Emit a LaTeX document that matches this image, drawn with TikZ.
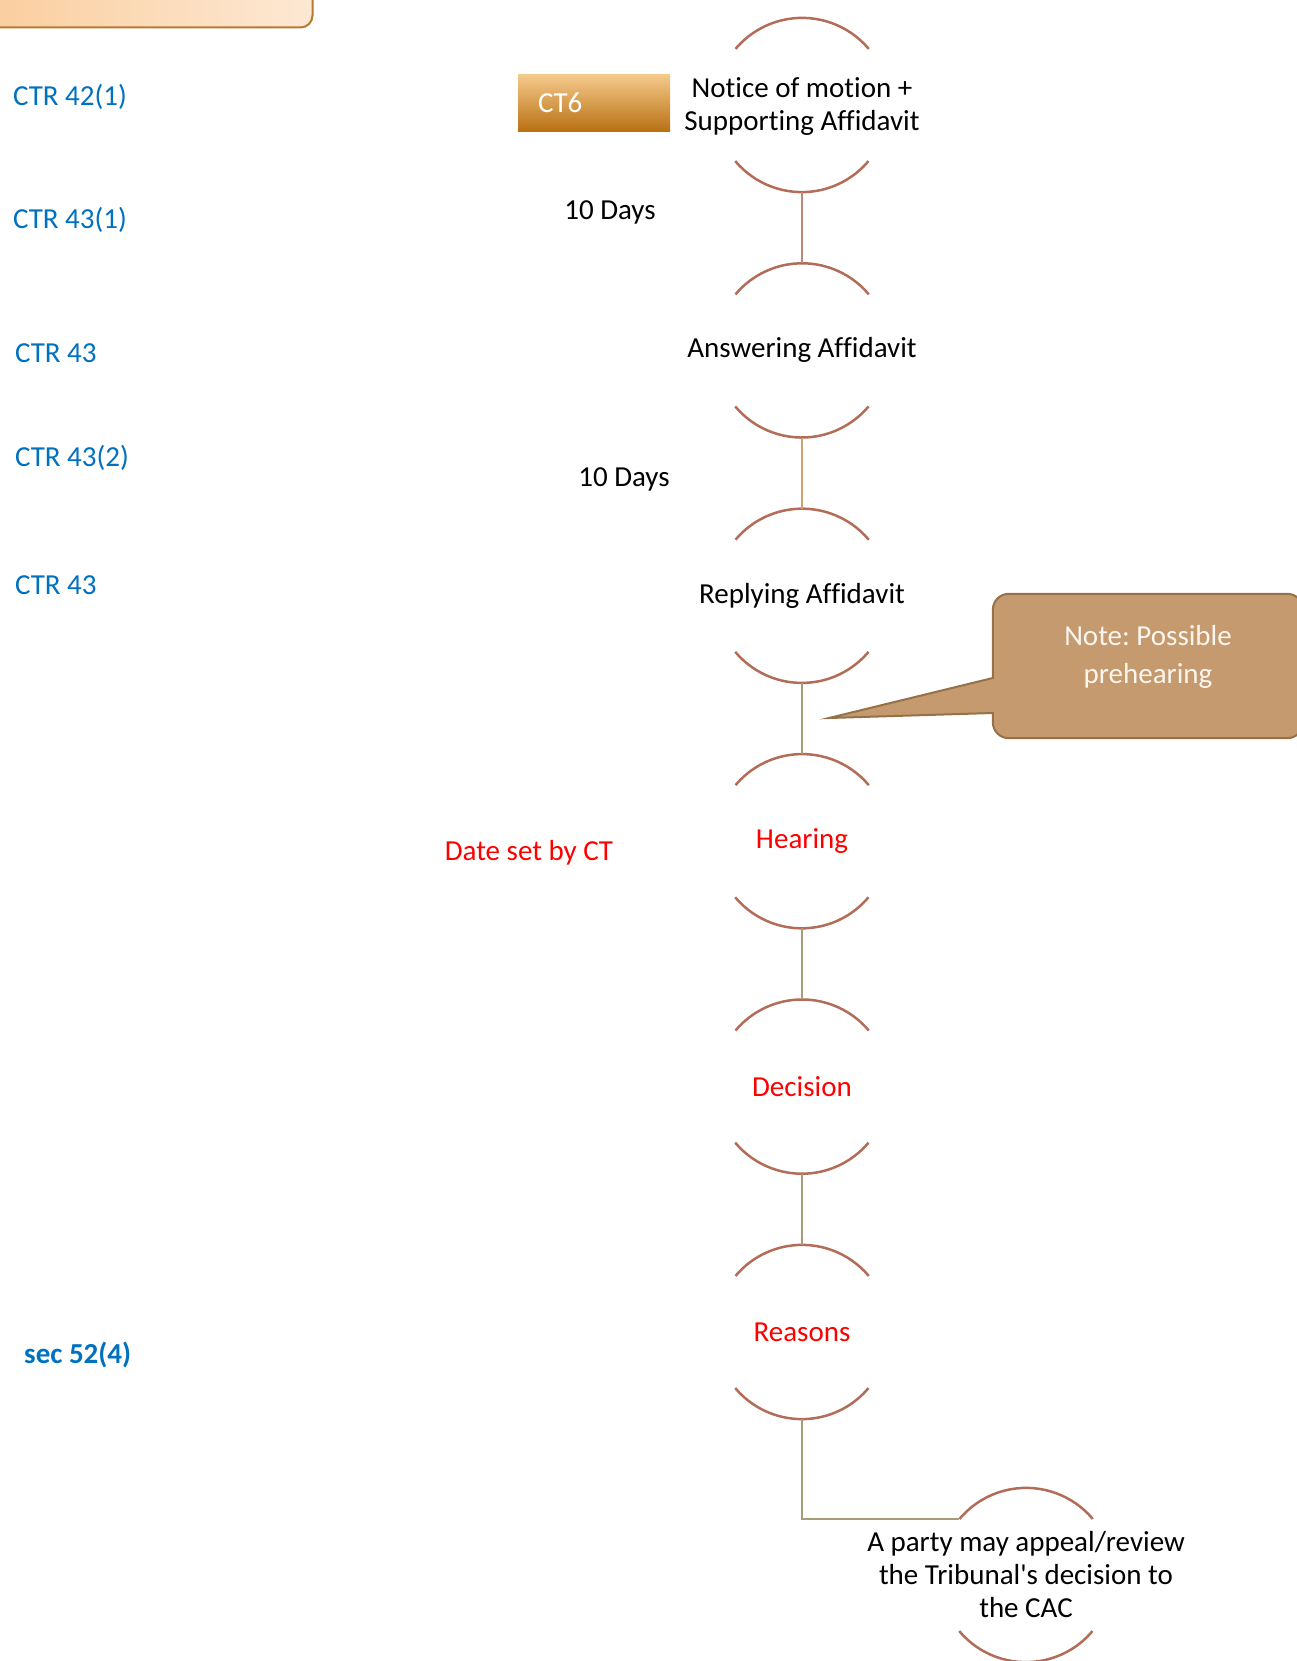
\documentclass[tikz,border=0pt]{standalone}
\usepackage{fontspec}
\setmainfont{Carlito}[Ligatures=NoCommon]
\frenchspacing
\usetikzlibrary{positioning,backgrounds}
\definecolor{rimbrown}{RGB}{178,108,88}
\definecolor{linkpink}{RGB}{192,136,120}
\definecolor{linktan}{RGB}{208,160,112}
\definecolor{linkolive}{RGB}{168,156,120}
\definecolor{ctrblue}{RGB}{0,112,192}
\definecolor{notefill}{RGB}{196,154,110}
\definecolor{noteedge}{RGB}{150,112,72}
\definecolor{notetext}{RGB}{252,246,238}
\definecolor{tagtop}{RGB}{246,202,140}
\definecolor{tagmid}{RGB}{239,168,58}
\definecolor{tagbot}{RGB}{184,112,18}
\definecolor{headleft}{RGB}{250,204,154}
\definecolor{headright}{RGB}{253,232,212}
\definecolor{headedge}{RGB}{184,122,46}
\tikzset{
every node/.style={font=\fontsize{29}{33}\selectfont},
phase/.style={circle, minimum size=174pt, inner sep=0pt},
stagetext/.style={align=center, inner sep=0pt},
eventtext/.style={stagetext, text=red},
rim/.style={draw=rimbrown, line width=2.5pt},
link/.style={line width=2pt},
rule/.style={text=ctrblue, anchor=west, inner sep=0pt},
period/.style={inner sep=0pt},
tag/.style={minimum height=57pt, text width=112pt, inner xsep=20pt, inner ysep=0pt,
  align=left, text=white, top color=tagtop, middle color=tagmid, bottom color=tagbot},
headbox/.style={minimum width=353pt, minimum height=67pt, rounded corners=12pt,
  draw=headedge, line width=2pt, left color=headleft, right color=headright},
notebox/.style={fill=notefill, draw=noteedge, line width=2pt},
notetextstyle/.style={align=center, inner sep=0pt, text=notetext, font=\fontsize{29}{38}\selectfont},
}

\begin{document}
\begin{tikzpicture}[x=1pt, y=-1pt, node distance=71pt]
    \useasboundingbox (0,0) rectangle (1297,1661);

    % box cut off by the top edge
    \node[headbox] (head) at (136,-6) {};

    % stages
    \node[phase,label={[stagetext,yshift=-2pt]center:Notice of motion +\\ Supporting Affidavit}] (notice) at (802,105) {};
    \node[phase,below=of notice,label={[stagetext]center:Answering Affidavit}] (answer) {};
    \node[phase,below=of answer,label={[stagetext]center:Replying Affidavit}] (reply) {};
    \node[phase,below=of reply,label={[eventtext]center:Hearing}] (hearing) {};
    \node[phase,below=of hearing,label={[eventtext]center:Decision}] (decision) {};
    \node[phase,below=of decision,label={[eventtext]center:Reasons}] (reasons) {};
    \node[phase,label={[stagetext]center:A party may appeal/review\\ the Tribunal\textquotesingle s decision to\\ the CAC}] (appeal) at (1026,1575) {};

    \foreach \n in {notice,answer,reply,hearing,decision,reasons,appeal} {
        \draw[rim] (\n.40) arc[start angle=40, end angle=140, radius=87pt];
        \draw[rim] (\n.220) arc[start angle=220, end angle=320, radius=87pt];
    }

    \draw[link,draw=linkpink] (notice) -- (answer);
    \draw[link,draw=linktan] (answer) -- (reply);
    \draw[link,draw=linkolive] (reply) -- (hearing);
    \draw[link,draw=linkolive] (hearing) -- (decision);
    \draw[link,draw=linkolive] (decision) -- (reasons);
    \draw[link,draw=linkolive] (reasons.south) |- (appeal.140);

    \node[tag] (ct6) at (594,103) {CT6};

    % rules on the left
    \node[rule] (r1) at (13,97) {CTR 42(1)};
    \node[rule] (r2) at (13,220) {CTR 43(1)};
    \node[rule] (r3) at (15,353) {CTR 43};
    \node[rule] (r4) at (15,458) {CTR 43(2)};
    \node[rule] (r5) at (15,585) {CTR 43};
    \node[rule,font=\fontsize{29}{33}\selectfont\bfseries] (r6) at (24,1355) {sec 52(4)};

    % time limits
    \node[period] (d1) at (610,212) {10 Days};
    \node[period] (d2) at (624,479) {10 Days};
    \node[period,text=red] (d3) at (529,853) {Date set by CT};

    % callout
    \node[minimum width=310pt, minimum height=144pt, inner sep=0pt,
      label={[notetextstyle,yshift=9pt]center:Note: Possible\\ prehearing}] (note) at (1148,666) {};
    \coordinate (tip) at (829,718);
    \begin{scope}[on background layer]
    \filldraw[notebox] ([shift={(0pt,-47pt)}]note.west) [rounded corners=16pt] |- (note.south east)
        |- (note.north west) [sharp corners] -- ([shift={(0pt,-12pt)}]note.west) -- (tip) -- cycle;
    \end{scope}
\end{tikzpicture}
\end{document}
